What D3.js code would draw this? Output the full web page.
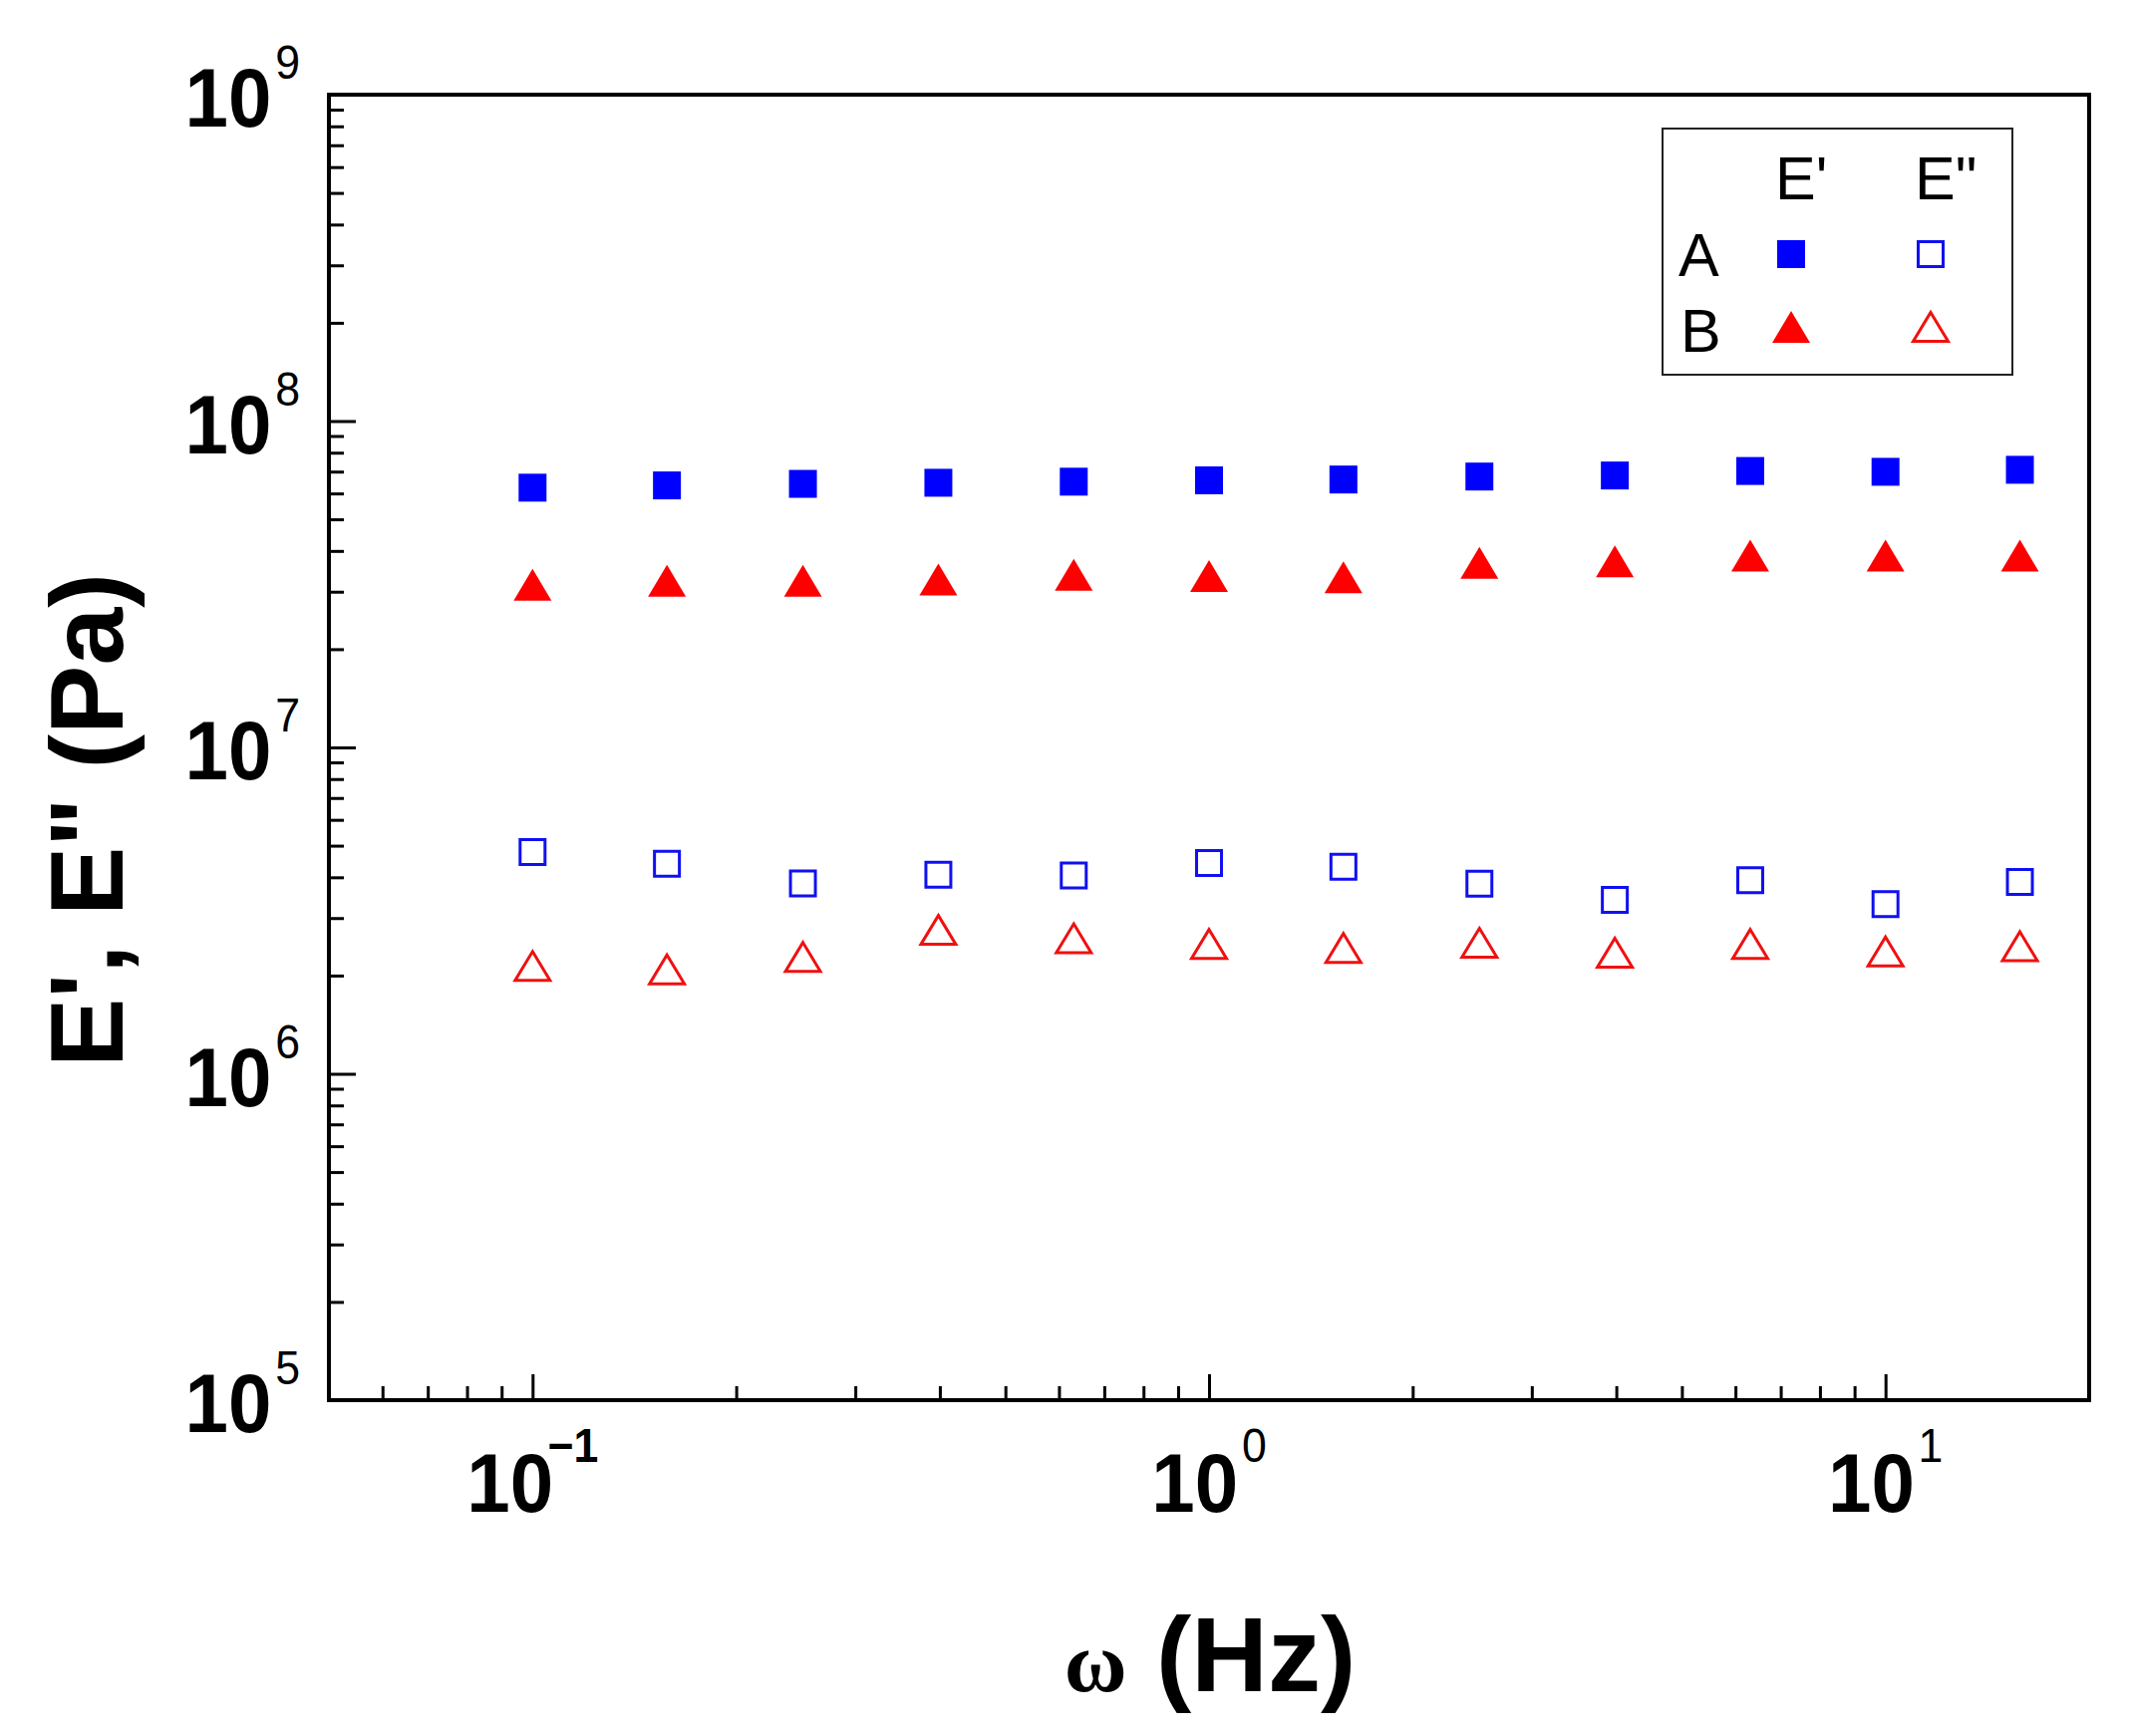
<!DOCTYPE html>
<html lang="en">
<head>
  <meta charset="UTF-8">
  <title>E', E'' vs frequency</title>
  <script src="https://d3js.org/d3.v7.min.js"></script>
  <style>
    body { margin: 0; background: #fff; }
  </style>
</head>
<body>
  <svg id="chart" width="2139" height="1742"></svg>

  <script>
    // frequency (Hz) and moduli (Pa)
    const freq = [0.1, 0.158, 0.251, 0.398, 0.631, 1, 1.58, 2.51, 3.98, 6.31, 10, 15.8];
    const storageA = [6.25e7, 6.35e7, 6.42e7, 6.47e7, 6.52e7, 6.58e7, 6.62e7, 6.76e7, 6.81e7, 7.03e7, 6.99e7, 7.09e7];
    const lossA = [4.78e6, 4.40e6, 3.83e6, 4.07e6, 4.05e6, 4.42e6, 4.31e6, 3.82e6, 3.41e6, 3.92e6, 3.31e6, 3.87e6];
    const storageB = [3.15e7, 3.24e7, 3.24e7, 3.27e7, 3.38e7, 3.35e7, 3.32e7, 3.68e7, 3.72e7, 3.87e7, 3.87e7, 3.87e7];
    const lossB = [2.14e6, 2.09e6, 2.28e6, 2.76e6, 2.60e6, 2.50e6, 2.43e6, 2.52e6, 2.35e6, 2.50e6, 2.37e6, 2.46e6];

    const xMajor = [0.1, 1, 10];
    const xExp = ["\u22121", "0", "1"];
    const yMajor = [1e5, 1e6, 1e7, 1e8, 1e9];
    const yExp = ["5", "6", "7", "8", "9"];

    const plotLeft = 330, plotRight = 2096, plotTop = 95, plotBottom = 1405;
    const sans = "'Liberation Sans', Arial, sans-serif";

    const svg = d3.select("#chart");

    const x = d3.scaleLog().domain([0.05, 20]).range([plotLeft, plotRight]);
    const y = d3.scaleLog().domain([1e5, 1e9]).range([plotBottom, plotTop]);

    // minor ticks: 2..9 of each decade inside the domain
    function minorTicks(scale) {
      const [d0, d1] = scale.domain();
      const out = [];
      for (let e = Math.floor(Math.log10(d0)); e <= Math.ceil(Math.log10(d1)); e++) {
        for (let k = 2; k <= 9; k++) {
          const v = k * Math.pow(10, e);
          if (v > d0 * 1.001 && v < d1 * 0.999) out.push(v);
        }
      }
      return out;
    }

    function styleAxis(g) {
      g.select(".domain").remove();
      g.selectAll("line").attr("stroke", "#000").attr("stroke-width", 3);
    }

    svg.append("g")
      .attr("transform", `translate(${plotLeft},0)`)
      .call(d3.axisLeft(y).tickValues(minorTicks(y)).tickSize(-15).tickFormat(""))
      .call(styleAxis);
    svg.append("g")
      .attr("transform", `translate(${plotLeft},0)`)
      .call(d3.axisLeft(y).tickValues(yMajor).tickSize(-27).tickFormat(""))
      .call(styleAxis);

    svg.append("g")
      .attr("transform", `translate(0,${plotBottom})`)
      .call(d3.axisBottom(x).tickValues(minorTicks(x)).tickSize(-14).tickFormat(""))
      .call(styleAxis);
    svg.append("g")
      .attr("transform", `translate(0,${plotBottom})`)
      .call(d3.axisBottom(x).tickValues(xMajor).tickSize(-26).tickFormat(""))
      .call(styleAxis);

    // frame
    svg.append("rect")
      .attr("x", plotLeft).attr("y", plotTop)
      .attr("width", plotRight - plotLeft).attr("height", plotBottom - plotTop)
      .attr("fill", "none").attr("stroke", "#000").attr("stroke-width", 4);

    // tick labels as 10 with superscript (slightly condensed glyphs)
    yMajor.forEach((v, i) => {
      const t = svg.append("text")
        .attr("transform", `translate(301,${y(v) + 32}) scale(0.93,1)`)
        .attr("text-anchor", "end")
        .attr("font-family", sans);
      t.append("tspan").attr("font-size", 84).attr("font-weight", "bold").text("10");
      t.append("tspan").attr("font-size", 48).attr("dy", -48).attr("dx", 4).text(yExp[i]);
    });

    xMajor.forEach((v, i) => {
      const t = svg.append("text")
        .attr("transform", `translate(${x(v)},${plotBottom + 112}) scale(0.93,1)`)
        .attr("text-anchor", "middle")
        .attr("font-family", sans);
      t.append("tspan").attr("font-size", 84).attr("font-weight", "bold").text("10");
      t.append("tspan").attr("font-size", 48).attr("dy", -50)
        .attr("dx", i === 0 ? -6 : 4)
        .attr("font-weight", i === 0 ? "bold" : "normal")
        .text(xExp[i]);
    });

    // axis titles
    svg.append("text")
      .attr("transform", "translate(123,823) rotate(-90)")
      .attr("text-anchor", "middle")
      .attr("font-family", sans)
      .attr("font-weight", "bold")
      .attr("font-size", 104)
      .text("E', E\" (Pa)");

    const xt = svg.append("text")
      .attr("x", 1214).attr("y", 1697)
      .attr("text-anchor", "middle")
      .attr("font-weight", "bold");
    xt.append("tspan")
      .attr("font-family", "'Liberation Serif', 'Times New Roman', serif")
      .attr("font-size", 86)
      .text("\u03c9");
    xt.append("tspan")
      .attr("font-family", sans)
      .attr("font-size", 106)
      .text(" (Hz)");

    // markers
    const tri = (w, h) => `M0,${-h / 2}L${w / 2},${h / 2}L${-w / 2},${h / 2}Z`;
    const sq = s => `M${-s / 2},${-s / 2}h${s}v${s}h${-s}Z`;

    const series = [
      { values: storageA, path: sq(28), fill: "#0000ff", stroke: "none" },
      { values: storageB, path: tri(38, 32), fill: "#ff0000", stroke: "none" },
      { values: lossA, path: sq(25), fill: "none", stroke: "#1010f0" },
      { values: lossB, path: tri(35, 29), fill: "none", stroke: "#f01010" }
    ];

    series.forEach(s => {
      svg.append("g").selectAll("path")
        .data(freq.map((f, i) => [f, s.values[i]]))
        .join("path")
        .attr("transform", d => `translate(${x(d[0])},${y(d[1])})`)
        .attr("d", s.path)
        .attr("fill", s.fill)
        .attr("stroke", s.stroke)
        .attr("stroke-width", 3);
    });

    // legend
    const lg = svg.append("g");
    lg.append("rect")
      .attr("x", 1668).attr("y", 129)
      .attr("width", 351).attr("height", 247)
      .attr("fill", "#fff").attr("stroke", "#222").attr("stroke-width", 2);

    const legendText = [
      { t: "E'", x: 1781, y: 200 },
      { t: "E\"", x: 1921, y: 200 },
      { t: "A", x: 1684, y: 277 },
      { t: "B", x: 1686, y: 353 }
    ];
    legendText.forEach(d => {
      lg.append("text")
        .attr("x", d.x).attr("y", d.y)
        .attr("font-family", sans)
        .attr("font-size", 61)
        .text(d.t);
    });

    const legendMarks = [
      { cx: 1797, cy: 255, s: series[0] },
      { cx: 1937, cy: 255, s: series[2] },
      { cx: 1797, cy: 328, s: series[1] },
      { cx: 1937, cy: 328, s: series[3] }
    ];
    legendMarks.forEach(m => {
      lg.append("path")
        .attr("transform", `translate(${m.cx},${m.cy})`)
        .attr("d", m.s.path)
        .attr("fill", m.s.fill)
        .attr("stroke", m.s.stroke)
        .attr("stroke-width", 3);
    });
  </script>
</body>
</html>
